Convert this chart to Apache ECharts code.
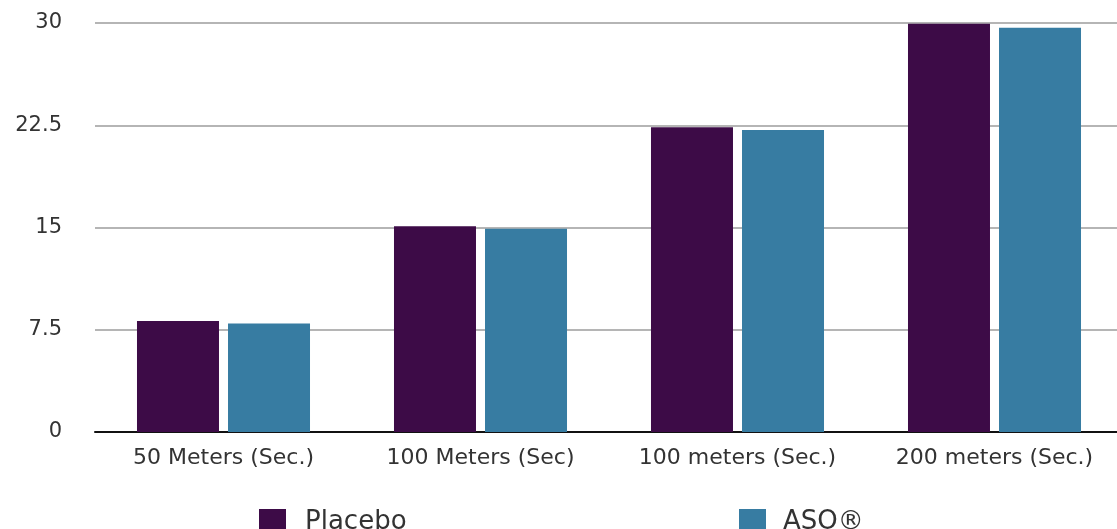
<!DOCTYPE html>
<html>
<head>
<meta charset="utf-8">
<script src="https://cdn.jsdelivr.net/npm/echarts@6/dist/echarts.min.js"></script>
<style>
html,body{margin:0;padding:0;background:#fff;}
#chart{width:1117px;height:529px;}
</style>
</head>
<body>
<div id="chart"></div>
<script>
const categories = ['50 Meters (Sec.)', '100 Meters (Sec)', '100 meters (Sec.)', '200 meters (Sec.)'];
const placebo = [8.15, 15.1, 22.35, 29.95];
const aso = [7.95, 14.9, 22.15, 29.65];
const yTicks = [0, 7.5, 15, 22.5, 30];
const seriesNames = ['Placebo', 'ASO®'];

const chart = echarts.init(document.getElementById('chart'));
const fontFamily = '"DejaVu Sans", sans-serif';
chart.setOption({
  animation: false,
  backgroundColor: '#ffffff',
  grid: { left: 95, top: 23, width: 1028, height: 409, containLabel: false, outerBoundsMode: 'none' },
  legend: [
    { data: [seriesNames[0]], left: 254, top: 504, itemWidth: 27, itemHeight: 26, icon: 'rect',
      textStyle: { fontSize: 26, color: '#333', fontFamily: fontFamily, padding: [0, 0, 0, 14] } },
    { data: [seriesNames[1]], left: 734, top: 504, itemWidth: 27, itemHeight: 26, icon: 'rect',
      textStyle: { fontSize: 26, color: '#333', fontFamily: fontFamily, padding: [0, 0, 0, 12] } }
  ],
  xAxis: {
    type: 'category',
    data: categories,
    axisLine: { show: true, lineStyle: { color: '#111', width: 2 } },
    axisTick: { show: false },
    axisLabel: { fontSize: 22, color: '#333', fontFamily: fontFamily, margin: 15 }
  },
  yAxis: {
    type: 'value',
    min: 0, max: 30, interval: 7.5,
    axisLine: { show: false },
    axisTick: { show: false },
    splitLine: { lineStyle: { color: '#b5b5b5', width: 2 } },
    axisLabel: { fontSize: 21, color: '#333', fontFamily: fontFamily, margin: 33,
      formatter: v => yTicks.includes(v) ? String(v) : '' }
  },
  series: [
    { name: seriesNames[0], type: 'bar', data: placebo, itemStyle: { color: '#3d0b47' },
      barWidth: 82, barGap: '11%' },
    { name: seriesNames[1], type: 'bar', data: aso, itemStyle: { color: '#377ca2' },
      barWidth: 82, barGap: '11%' }
  ]
});
</script>
</body>
</html>
